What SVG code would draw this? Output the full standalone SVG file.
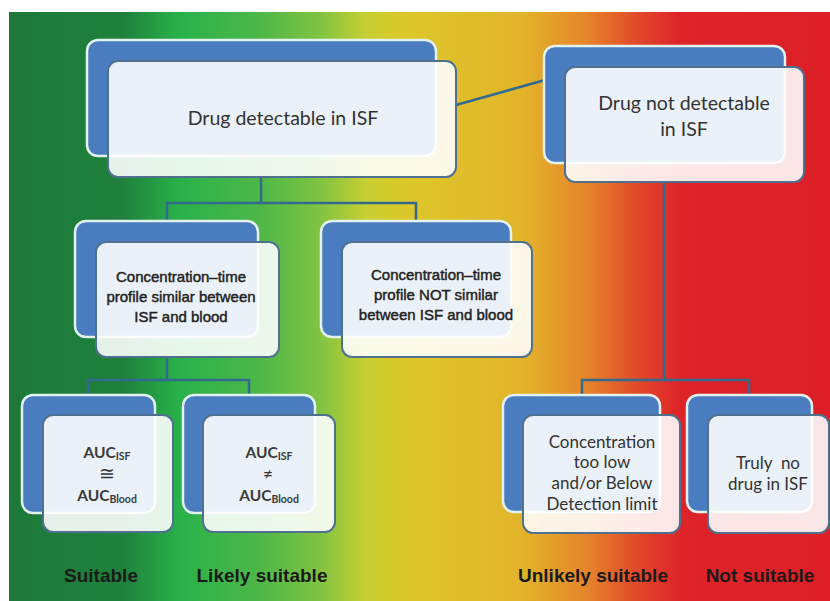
<svg xmlns="http://www.w3.org/2000/svg" width="830" height="601" viewBox="0 0 830 601">
<defs>
<linearGradient id="bg" x1="0" y1="0" x2="830" y2="0" gradientUnits="userSpaceOnUse">
<stop offset="0" stop-color="#1c783a"/>
<stop offset="0.15" stop-color="#1f813c"/>
<stop offset="0.215" stop-color="#29b14a"/>
<stop offset="0.31" stop-color="#4cb748"/>
<stop offset="0.385" stop-color="#80c342"/>
<stop offset="0.44" stop-color="#c5cf33"/>
<stop offset="0.485" stop-color="#dcc82a"/>
<stop offset="0.63" stop-color="#e2b42a"/>
<stop offset="0.705" stop-color="#e5862b"/>
<stop offset="0.77" stop-color="#e1472a"/>
<stop offset="0.82" stop-color="#dd2429"/>
<stop offset="1" stop-color="#dc1f26"/>
</linearGradient>
<style>
.back{fill:#4a7dbf;stroke:#e4f2ef;stroke-width:2.5}
.front{fill:#ffffff;fill-opacity:0.89;stroke:#50708f;stroke-width:2}
.conn{fill:none;stroke:#336a8e;stroke-width:2.5}
.cal{font-family:Lato,"Liberation Sans",sans-serif;fill:#333333;text-anchor:middle}
.auc{font-family:Lato,"Liberation Sans",sans-serif;fill:#3a3a3a;text-anchor:middle;font-weight:bold;font-size:15.5px}
.ar{font-family:"Liberation Sans",Arial,sans-serif;fill:#222222;stroke:#222222;stroke-width:0.45;text-anchor:middle;font-size:15px}
.lab{font-family:"Liberation Sans",Arial,sans-serif;font-weight:bold;fill:#1a1a1a;text-anchor:middle;font-size:19px}
</style>
</defs>
<rect x="0" y="0" width="830" height="601" fill="#ffffff"/>
<rect x="9" y="12" width="821" height="589" fill="url(#bg)"/>

<g id="connectors">
<line class="conn" x1="456" y1="105" x2="545" y2="80"/>
<polyline class="conn" points="261,177 261,203 167,203 167,222"/>
<polyline class="conn" points="261,203 416,203 416,222"/>
<polyline class="conn" points="167,357 167,380 88,380 88,395"/>
<polyline class="conn" points="167,380 249,380 249,395"/>
<polyline class="conn" points="664,182 664,380 582,380 582,395"/>
<polyline class="conn" points="664,380 749,380 749,395"/>
</g>

<g id="node-detectable">
<rect class="back" x="87" y="40" width="349" height="116" rx="11"/>
<rect class="front" x="108" y="61" width="348" height="116" rx="10"/>
<text class="cal" x="283" y="125" font-size="19.5">Drug detectable in ISF</text>
</g>

<g id="node-not-detectable">
<rect class="back" x="544" y="46" width="241" height="117" rx="11"/>
<rect class="front" x="565" y="67" width="239" height="115" rx="10"/>
<text class="cal" x="684" y="110" font-size="19.5">Drug not detectable</text>
<text class="cal" x="684" y="136" font-size="19.5">in ISF</text>
</g>

<g id="node-similar">
<rect class="back" x="75" y="221" width="183" height="116" rx="11"/>
<rect class="front" x="96" y="242" width="183" height="115" rx="10"/>
<text class="ar" x="181" y="282">Concentration–time</text>
<text class="ar" x="181" y="302">profile similar between</text>
<text class="ar" x="181" y="322">ISF and blood</text>
</g>

<g id="node-not-similar">
<rect class="back" x="321" y="221" width="190" height="116" rx="11"/>
<rect class="front" x="342" y="242" width="190" height="115" rx="10"/>
<text class="ar" x="436" y="280">Concentration–time</text>
<text class="ar" x="436" y="300">profile NOT similar</text>
<text class="ar" x="436" y="320">between ISF and blood</text>
</g>

<g id="node-auc-equal">
<rect class="back" x="22" y="395" width="133" height="118" rx="11"/>
<rect class="front" x="43" y="415" width="130" height="117" rx="10"/>
<text class="auc" x="107" y="458">AUC<tspan font-size="10.5" dy="2">ISF</tspan></text>
<text class="cal" x="107" y="480" font-size="19">≅</text>
<text class="auc" x="107" y="501">AUC<tspan font-size="10.5" dy="2">Blood</tspan></text>
</g>

<g id="node-auc-notequal">
<rect class="back" x="183" y="395" width="132" height="118" rx="11"/>
<rect class="front" x="203" y="415" width="132" height="117" rx="10"/>
<text class="auc" x="269" y="458">AUC<tspan font-size="10.5" dy="2">ISF</tspan></text>
<text class="cal" x="268" y="480" font-size="17">≠</text>
<text class="auc" x="269" y="501">AUC<tspan font-size="10.5" dy="2">Blood</tspan></text>
</g>

<g id="node-too-low">
<rect class="back" x="503" y="395" width="157" height="117" rx="11"/>
<rect class="front" x="523" y="415" width="157" height="118" rx="10"/>
<text class="cal" x="602" y="448" font-size="17">Concentration</text>
<text class="cal" x="602" y="468" font-size="17">too low</text>
<text class="cal" x="602" y="489" font-size="17">and/or Below</text>
<text class="cal" x="602" y="510" font-size="17">Detection limit</text>
</g>

<g id="node-no-drug">
<rect class="back" x="687" y="395" width="125" height="117" rx="11"/>
<rect class="front" x="708" y="415" width="121" height="118" rx="10"/>
<text class="cal" x="768" y="469" font-size="17" xml:space="preserve">Truly  no</text>
<text class="cal" x="768" y="490" font-size="17">drug in ISF</text>
</g>

<g id="labels">
<text class="lab" x="101" y="582" font-size="18.5">Suitable</text>
<text class="lab" x="262" y="582">Likely suitable</text>
<text class="lab" x="593" y="582">Unlikely suitable</text>
<text class="lab" x="760" y="582">Not suitable</text>
</g>
</svg>
